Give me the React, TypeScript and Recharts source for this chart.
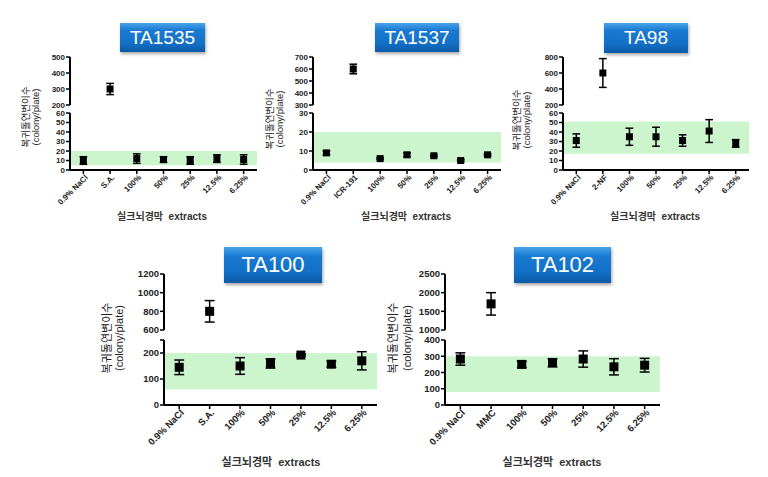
import React from "react";
import { ComposedChart, Scatter, ErrorBar, XAxis, YAxis, ReferenceArea } from "recharts";

// ---- data ----
const DOSES = ["100%", "50%", "25%", "12.5%", "6.25%"];

const TA1535_LABELS = ["0.9% NaCl", "S.A.", ...DOSES];
const TA1535_MEAN = [10, 300, 12, 11, 10, 12, 11];
const TA1535_SD = [4, 35, 5, 3, 4, 4, 5];

const TA1537_LABELS = ["0.9% NaCl", "ICR-191", ...DOSES];
const TA1537_MEAN = [9, 600, 6, 8, 7.5, 5, 8];
const TA1537_SD = [1, 40, 0.5, 1, 0.5, 0.5, 0.5];

const TA98_LABELS = ["0.9% NaCl", "2-NF", ...DOSES];
const TA98_MEAN = [31, 600, 35, 35, 31, 41, 28];
const TA98_SD = [7, 180, 9, 10, 6, 12, 4];

const TA100_LABELS = ["0.9% NaCl", "S.A.", ...DOSES];
const TA100_MEAN = [145, 800, 150, 160, 192, 157, 170];
const TA100_SD = [28, 115, 32, 18, 4, 12, 35];

const TA102_LABELS = ["0.9% NaCl", "MMC", ...DOSES];
const TA102_MEAN = [283, 1700, 250, 260, 283, 235, 245];
const TA102_SD = [38, 300, 20, 25, 50, 50, 42];

const FONT = "'Liberation Sans', Arial, 'Noto Sans CJK KR', sans-serif";
const Y_TITLE = "복귀돌연변이수";
const Y_UNIT = "(colony/plate)";
const X_TITLE = "실크뇌경막  extracts";
const BAND = "#cdf5cd";
const YW = 40;
const M = 9;

type Geo = {
  left: number; right: number;
  upTop: number; upBottom: number; lowTop: number; lowBottom: number;
};

type PanelCfg = {
  title: string;
  labels: string[];
  mean: number[];
  sd: number[];
  band: [number, number];
  lowDomain: [number, number];
  lowTicks: number[];
  blankTick?: number;
  upDomain: [number, number];
  upTicks: number[];
  geo: Geo;
  box: { x: number; y: number; w: number; h: number; fs: number };
  ylab: { k: number; c: number; cy: number; fs: number };
  xt: { cx: number; cy: number; fs: number };
  fs: number;
  mk: number;
};

const RotTick = ({ x, y, payload, labels, fs }: any) => (
  <g transform={`translate(${x + 3},${y})`}>
    <text
      x={0}
      y={0}
      dy={fs * 0.35}
      textAnchor="end"
      transform="rotate(-45)"
      fontSize={fs}
      fontWeight="bold"
      fill="#222"
      fontFamily={FONT}
    >
      {labels[payload.value]}
    </text>
  </g>
);

const square = (s: number) => (p: any) =>
  p.cx == null || p.cy == null ? null : (
    <rect x={p.cx - s / 2} y={p.cy - s / 2} width={s} height={s} fill="#000" />
  );

function Segment({
  pts, domain, ticks, left, right, top, bottom, showX, labels, band, fs, mk, blankTick,
}: any) {
  const xh = showX ? 60 : 0;
  const width = right - left + YW + 6;
  const height = bottom - top + 2 * M + xh;
  return (
    <div style={{ position: "absolute", left: left - YW, top: top - M }}>
      <ComposedChart width={width} height={height} data={pts} margin={{ top: M, right: 6, bottom: M, left: 0 }}>
        <XAxis
          type="number"
          dataKey="x"
          domain={[-0.5, 6.5]}
          ticks={[0, 1, 2, 3, 4, 5, 6]}
          interval={0}
          hide={!showX}
          height={xh}
          axisLine={{ stroke: "#000", strokeWidth: 2 }}
          tickLine={{ stroke: "#000", strokeWidth: 1.5 }}
          tickSize={4}
          tick={<RotTick labels={labels} fs={fs} />}
        />
        <YAxis
          type="number"
          dataKey="y"
          domain={domain}
          ticks={ticks}
          interval={0}
          allowDataOverflow
          width={YW}
          axisLine={{ stroke: "#000", strokeWidth: 2 }}
          tickLine={{ stroke: "#000", strokeWidth: 1.5 }}
          tickSize={4}
          tickMargin={1}
          tickFormatter={(v: number) => (v === blankTick ? "" : String(v))}
          tick={{ fontSize: fs, fill: "#222", fontWeight: "bold", fontFamily: FONT }}
        />
        {band && (
          <ReferenceArea y1={band[0]} y2={band[1]} fill={BAND} fillOpacity={1} stroke="none" />
        )}
        <Scatter dataKey="y" fill="#000" shape={square(mk)} isAnimationActive={false}>
          <ErrorBar dataKey="e" direction="y" width={mk * 0.55} stroke="#000" strokeWidth={1.5} />
        </Scatter>
      </ComposedChart>
    </div>
  );
}

function Panel({ cfg }: { cfg: PanelCfg }) {
  const all = cfg.mean.map((v, i) => ({ x: i, y: v, e: cfg.sd[i] }));
  const low = all.filter((p) => p.y <= cfg.lowDomain[1]);
  const up = all.filter((p) => p.y > cfg.lowDomain[1]);
  const g = cfg.geo;
  return (
    <>
      <Segment
        pts={up}
        domain={cfg.upDomain}
        ticks={cfg.upTicks}
        left={g.left}
        right={g.right}
        top={g.upTop}
        bottom={g.upBottom}
        showX={false}
        labels={cfg.labels}
        fs={cfg.fs}
        mk={cfg.mk}
      />
      <Segment
        pts={low}
        domain={cfg.lowDomain}
        ticks={cfg.lowTicks}
        left={g.left}
        right={g.right}
        top={g.lowTop}
        bottom={g.lowBottom}
        showX
        labels={cfg.labels}
        band={cfg.band}
        fs={cfg.fs}
        mk={cfg.mk}
        blankTick={cfg.blankTick}
      />
      <div
        style={{
          position: "absolute",
          left: cfg.box.x,
          top: cfg.box.y,
          width: cfg.box.w,
          height: cfg.box.h,
          background: "linear-gradient(#4aa3ea 0%, #1a7ad2 25%, #1270c6 70%, #0b5aa6 100%)",
          boxShadow: "1px 2px 3px rgba(0,0,0,0.35)",
          color: "#fff",
          fontFamily: FONT,
          fontSize: cfg.box.fs,
          lineHeight: `${cfg.box.h}px`,
          textAlign: "center",
        }}
      >
        {cfg.title}
      </div>
      {[
        { t: Y_TITLE, x: cfg.ylab.k },
        { t: Y_UNIT, x: cfg.ylab.c },
      ].map((l) => (
        <div
          key={l.t}
          style={{
            position: "absolute",
            left: l.x,
            top: cfg.ylab.cy,
            transform: "translate(-50%,-50%) rotate(-90deg)",
            whiteSpace: "nowrap",
            fontFamily: FONT,
            fontSize: cfg.ylab.fs,
            color: "#222",
            lineHeight: 1,
          }}
        >
          {l.t}
        </div>
      ))}
      <div
        style={{
          position: "absolute",
          left: cfg.xt.cx,
          top: cfg.xt.cy,
          transform: "translate(-50%,-50%)",
          whiteSpace: "pre",
          fontFamily: FONT,
          fontSize: cfg.xt.fs,
          fontWeight: "bold",
          color: "#333",
          lineHeight: 1,
        }}
      >
        {X_TITLE}
      </div>
    </>
  );
}

const TOP = { upTop: 57, upBottom: 105, lowTop: 113, lowBottom: 170 };
const BOT = { upTop: 274, upBottom: 330, lowTop: 340, lowBottom: 405 };

const PANELS: PanelCfg[] = [
  {
    title: "TA1535", labels: TA1535_LABELS, mean: TA1535_MEAN, sd: TA1535_SD,
    band: [5, 20], lowDomain: [0, 60], lowTicks: [0, 10, 20, 30, 40, 50, 60],
    upDomain: [200, 500], upTicks: [200, 300, 400, 500],
    geo: { left: 70, right: 257, ...TOP },
    box: { x: 120, y: 23, w: 85, h: 29, fs: 19 },
    ylab: { k: 26, c: 36, cy: 117, fs: 9.5 },
    xt: { cx: 162, cy: 217, fs: 10 },
    fs: 8, mk: 7,
  },
  {
    title: "TA1537", labels: TA1537_LABELS, mean: TA1537_MEAN, sd: TA1537_SD,
    band: [4, 20], lowDomain: [0, 30], lowTicks: [0, 10, 20, 30],
    upDomain: [300, 700], upTicks: [300, 400, 500, 600, 700],
    geo: { left: 313, right: 501, ...TOP },
    box: { x: 375, y: 23, w: 84, h: 29, fs: 19 },
    ylab: { k: 270, c: 280, cy: 119, fs: 9.5 },
    xt: { cx: 406, cy: 217, fs: 10 },
    fs: 8, mk: 7,
  },
  {
    title: "TA98", labels: TA98_LABELS, mean: TA98_MEAN, sd: TA98_SD,
    band: [17, 51], lowDomain: [0, 60], lowTicks: [0, 10, 20, 30, 40, 50, 60],
    upDomain: [200, 800], upTicks: [200, 400, 600, 800],
    geo: { left: 563, right: 749, ...TOP },
    box: { x: 604, y: 23, w: 84, h: 30, fs: 19 },
    ylab: { k: 517, c: 527, cy: 120, fs: 9.5 },
    xt: { cx: 655, cy: 217, fs: 10 },
    fs: 8, mk: 7,
  },
  {
    title: "TA100", labels: TA100_LABELS, mean: TA100_MEAN, sd: TA100_SD,
    band: [60, 200], lowDomain: [0, 250], lowTicks: [0, 100, 200, 250], blankTick: 250,
    upDomain: [600, 1200], upTicks: [600, 800, 1000, 1200],
    geo: { left: 164, right: 377, ...BOT },
    box: { x: 224, y: 247, w: 98, h: 36, fs: 22 },
    ylab: { k: 107, c: 119, cy: 338, fs: 11 },
    xt: { cx: 271, cy: 462, fs: 11 },
    fs: 9.5, mk: 9,
  },
  {
    title: "TA102", labels: TA102_LABELS, mean: TA102_MEAN, sd: TA102_SD,
    band: [80, 300], lowDomain: [0, 400], lowTicks: [0, 100, 200, 300, 400],
    upDomain: [1000, 2500], upTicks: [1000, 1500, 2000, 2500],
    geo: { left: 445, right: 660, ...BOT },
    box: { x: 514, y: 247, w: 97, h: 36, fs: 22 },
    ylab: { k: 393, c: 407, cy: 338, fs: 11 },
    xt: { cx: 552, cy: 462, fs: 11 },
    fs: 9.5, mk: 9,
  },
];

export default function App() {
  return (
    <div
      style={{
        position: "absolute",
        left: 0,
        top: 0,
        width: 768,
        height: 477,
        background: "#fff",
        overflow: "hidden",
      }}
    >
      {PANELS.map((p) => (
        <Panel key={p.title} cfg={p} />
      ))}
    </div>
  );
}
